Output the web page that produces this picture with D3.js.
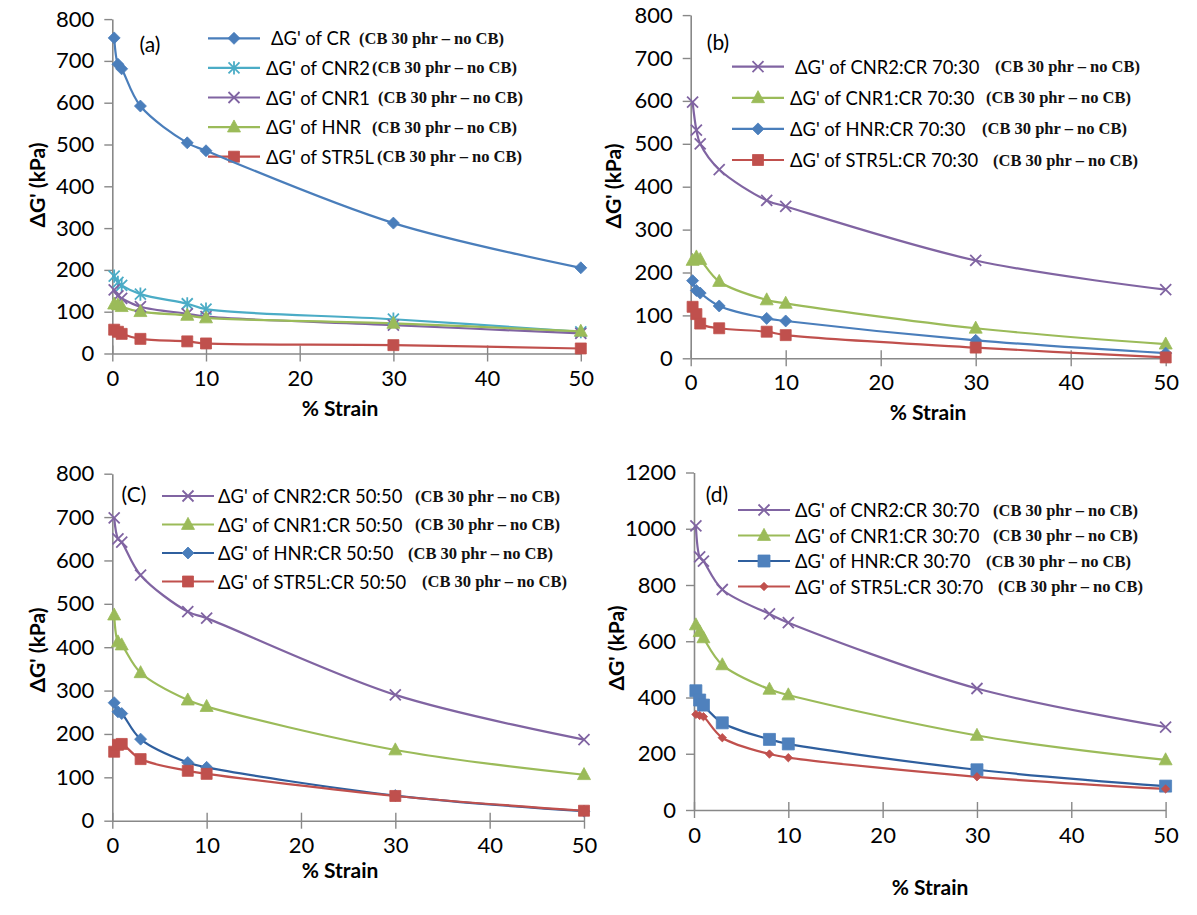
<!DOCTYPE html>
<html>
<head>
<meta charset="utf-8">
<script src="https://cdn.jsdelivr.net/npm/d3@7"></script>
<style>
  body { margin: 0; background: #fff; }
  svg { display: block; }
  .tick text { font-family: Lato, "Liberation Sans", sans-serif; }
</style>
</head>
<body>
<div id="chart"></div>
<script>
const strain = [0.2, 0.6, 1, 3, 8, 10, 30, 50];
const xTicks = [0, 10, 20, 30, 40, 50];
const yTicks800 = [0, 100, 200, 300, 400, 500, 600, 700, 800];
const yTicks1200 = [0, 200, 400, 600, 800, 1000, 1200];
const note = '(CB 30 phr \u2013 no CB)';

// panel (a)
const aNames = ["\u0394G' of CR", "\u0394G' of CNR2", "\u0394G' of CNR1", "\u0394G' of HNR", "\u0394G' of STR5L"];
const aCR = [755, 692, 681, 592, 504, 485, 312, 205];
const aCNR2 = [185, 170, 163, 142, 119, 106, 82, 52];
const aCNR1 = [152, 138, 132, 112, 95, 88, 68, 48];
const aHNR = [118, 116, 112, 100, 91, 85, 72, 53];
const aSTR5L = [57, 52, 47, 35, 29, 24, 20, 12];

// panel (b)
const bNames = ["\u0394G' of CNR2:CR 70:30", "\u0394G' of CNR1:CR 70:30", "\u0394G' of HNR:CR 70:30", "\u0394G' of STR5L:CR 70:30"];
const bCNR2 = [597, 532, 500, 440, 368, 354, 228, 160];
const bCNR1 = [228, 236, 230, 179, 136, 128, 70, 33];
const bHNR = [181, 158, 152, 122, 93, 87, 42, 12];
const bSTR5L = [120, 103, 81, 70, 62, 54, 25, 2];

// panel (c)
const cNames = ["\u0394G' of CNR2:CR 50:50", "\u0394G' of CNR1:CR 50:50", "\u0394G' of HNR:CR 50:50", "\u0394G' of STR5L:CR 50:50"];
const cCNR2 = [698, 650, 642, 566, 482, 467, 290, 187];
const cCNR1 = [474, 412, 405, 341, 278, 263, 163, 106];
const cHNR = [272, 251, 247, 188, 134, 123, 58, 22];
const cSTR5L = [159, 175, 177, 142, 115, 108, 57, 23];

// panel (d)
const dNames = ["\u0394G' of CNR2:CR 30:70", "\u0394G' of CNR1:CR 30:70", "\u0394G' of HNR:CR 30:70", "\u0394G' of STR5L:CR 30:70"];
const dCNR2 = [1010, 900, 885, 784, 697, 666, 432, 295];
const dCNR1 = [658, 634, 612, 516, 429, 409, 265, 178];
const dHNR = [424, 391, 373, 310, 251, 235, 143, 85];
const dSTR5L = [340, 336, 332, 257, 199, 186, 118, 75];

const BLUE = '#4a7ebb', DBLUE = '#2f5f9e', CYAN = '#4bacc6', PURPLE = '#8064a2', GREEN = '#9bbb59', RED = '#c0504d';
const SANS = 'Lato, "Liberation Sans", sans-serif';

// marker shapes, centred at 0,0
const markers = {
    diamond: s => `M0,${-s}L${s},0L0,${s}L${-s},0Z`,
    square: s => `M${-s},${-s}H${s}V${s}H${-s}Z`,
    triangle: s => `M0,${-s * 1.1}L${s},${s * 0.75}L${-s},${s * 0.75}Z`,
    cross: s => `M${-s},${-s}L${s},${s}M${-s},${s}L${s},${-s}`,
    star: s => `M${-s},${-s}L${s},${s}M${-s},${s}L${s},${-s}M0,${-s * 1.2}V${s * 1.2}`
};

const panels = [
    {
        label: '(a)', labelX: 150, labelY: 52,
        x0: 112.3, x1: 580.8, y0: 353.5, y1: 19.1, yMax: 800, yTicks: yTicks800,
        yTitleX: 36, yTitleY: 185, xTitleX: 340, xTitleY: 416, xTickY: 378,
        legX: 208, legY: 38.3, legStep: 29.6, textX: 266, noteX: [359, 372, 378, 372, 377],
        series: [
            { name: aNames[0], values: aCR, color: BLUE, line: BLUE, marker: 'diamond', size: 6, lead: true },
            { name: aNames[1], values: aCNR2, color: CYAN, line: CYAN, marker: 'star', size: 5.5 },
            { name: aNames[2], values: aCNR1, color: PURPLE, line: PURPLE, marker: 'cross', size: 5.5 },
            { name: aNames[3], values: aHNR, color: GREEN, line: GREEN, marker: 'triangle', size: 6.5 },
            { name: aNames[4], values: aSTR5L, color: RED, line: RED, marker: 'square', size: 5.5 }
        ]
    },
    {
        label: '(b)', labelX: 718, labelY: 50,
        x0: 690.7, x1: 1165.7, y0: 358.3, y1: 15.1, yMax: 800, yTicks: yTicks800,
        yTitleX: 612, yTitleY: 186, xTitleX: 928, xTitleY: 420, xTickY: 382,
        legX: 732, legY: 66.7, legStep: 31.1, textX: 790, noteX: [995, 986, 982, 993],
        series: [
            { name: bNames[0], values: bCNR2, color: PURPLE, line: PURPLE, marker: 'cross', size: 5.5, lead: true },
            { name: bNames[1], values: bCNR1, color: GREEN, line: GREEN, marker: 'triangle', size: 6.5 },
            { name: bNames[2], values: bHNR, color: BLUE, line: BLUE, marker: 'diamond', size: 6 },
            { name: bNames[3], values: bSTR5L, color: RED, line: RED, marker: 'square', size: 5.5 }
        ]
    },
    {
        label: '(C)', labelX: 134, labelY: 502,
        x0: 112.3, x1: 584, y0: 820.7, y1: 473.7, yMax: 800, yTicks: yTicks800,
        yTitleX: 36, yTitleY: 650, xTitleX: 340, xTitleY: 878, xTickY: 845,
        legX: 162, legY: 496, legStep: 28.5, textX: 218, noteX: [415, 415, 408, 422],
        series: [
            { name: cNames[0], values: cCNR2, color: PURPLE, line: PURPLE, marker: 'cross', size: 5.5 },
            { name: cNames[1], values: cCNR1, color: GREEN, line: GREEN, marker: 'triangle', size: 6.5 },
            { name: cNames[2], values: cHNR, color: BLUE, line: DBLUE, marker: 'diamond', size: 6 },
            { name: cNames[3], values: cSTR5L, color: RED, line: RED, marker: 'square', size: 5.5 }
        ]
    },
    {
        label: '(d)', labelX: 717, labelY: 502,
        x0: 694, x1: 1165.6, y0: 810, y1: 472.5, yMax: 1200, yTicks: yTicks1200,
        yTitleX: 615, yTitleY: 648, xTitleX: 930, xTitleY: 895, xTickY: 835,
        legX: 738, legY: 510, legStep: 25.5, textX: 795, noteX: [993, 993, 986, 998],
        series: [
            { name: dNames[0], values: dCNR2, color: PURPLE, line: PURPLE, marker: 'cross', size: 5.5 },
            { name: dNames[1], values: dCNR1, color: GREEN, line: GREEN, marker: 'triangle', size: 6.5 },
            { name: dNames[2], values: dHNR, color: '#4f81bd', line: DBLUE, marker: 'square', size: 6 },
            { name: dNames[3], values: dSTR5L, color: RED, line: RED, marker: 'diamond', size: 4.2 }
        ]
    }
];

const svg = d3.select('#chart')
    .append('svg')
    .attr('width', 1197)
    .attr('height', 915);

function drawMarker(parent, s, cx, cy) {
    const open = s.marker === 'cross' || s.marker === 'star';
    parent.append('path')
        .attr('transform', `translate(${cx},${cy})`)
        .attr('d', markers[s.marker](s.size))
        .attr('fill', open ? 'none' : s.color)
        .attr('stroke', s.color)
        .attr('stroke-width', open ? 1.8 : 0.8);
}

const drawPanel = function (p) {
    const g = svg.append('g');

    const x = d3.scaleLinear().domain([0, 50]).range([p.x0, p.x1]);
    const y = d3.scaleLinear().domain([0, p.yMax]).range([p.y0, p.y1]);

    // Y axis
    const yAxis = g.append('g')
        .attr('transform', `translate(${p.x0},0)`)
        .call(d3.axisLeft(y).tickValues(p.yTicks).tickFormat(d3.format('d'))
            .tickSize(8).tickPadding(10).tickSizeOuter(0));
    yAxis.select('.domain').attr('stroke', '#888').attr('stroke-width', 1.6);
    yAxis.selectAll('.tick line').attr('stroke', '#888').attr('stroke-width', 1.4);
    yAxis.selectAll('.tick text').attr('font-size', 22).attr('fill', '#000');

    // X axis, ticks cross the line
    const xAxis = g.append('g')
        .attr('transform', `translate(0,${p.y0})`)
        .call(d3.axisBottom(x).tickValues(xTicks).tickSizeInner(8).tickSizeOuter(0).tickPadding(0));
    xAxis.select('.domain').attr('stroke', '#888').attr('stroke-width', 1.6);
    xAxis.selectAll('.tick line').attr('stroke', '#888').attr('stroke-width', 1.4).attr('y1', -8);
    xAxis.selectAll('.tick text')
        .attr('font-size', 22).attr('fill', '#000')
        .attr('dy', null)
        .attr('y', p.xTickY - p.y0 + 8);

    // Axis titles
    const yt = g.append('text')
        .attr('transform', `translate(${p.yTitleX},${p.yTitleY}) rotate(-90)`)
        .attr('text-anchor', 'middle')
        .attr('dominant-baseline', 'central')
        .attr('font-family', SANS)
        .attr('font-weight', 'bold')
        .attr('font-size', 21);
    yt.append('tspan').text("\u0394G'");
    yt.append('tspan').text(' (kPa)');

    g.append('text')
        .attr('x', p.xTitleX)
        .attr('y', p.xTitleY)
        .attr('text-anchor', 'middle')
        .attr('font-family', SANS)
        .attr('font-weight', 'bold')
        .attr('font-size', 21)
        .text('% Strain');

    // Panel label
    g.append('text')
        .attr('x', p.labelX)
        .attr('y', p.labelY)
        .attr('text-anchor', 'middle')
        .attr('font-family', SANS)
        .attr('font-size', 21)
        .text(p.label);

    const line = d3.line()
        .x((d, i) => x(strain[i]))
        .y(d => y(d))
        .curve(d3.curveCatmullRom.alpha(0.5));

    // Legend
    p.series.forEach((s, i) => {
        const ly = p.legY + i * p.legStep;
        const leg = g.append('g');
        leg.append('line')
            .attr('x1', p.legX).attr('x2', p.legX + 52)
            .attr('y1', ly).attr('y2', ly)
            .attr('stroke', s.line).attr('stroke-width', 2.2);
        drawMarker(leg, s, p.legX + 26, ly);
        leg.append('text')
            .attr('x', p.textX + (s.lead ? 5 : 0))
            .attr('y', ly)
            .attr('dominant-baseline', 'central')
            .attr('font-family', SANS)
            .attr('font-size', 18.4)
            .text(s.name);
        leg.append('text')
            .attr('x', p.noteX[i])
            .attr('y', ly)
            .attr('dominant-baseline', 'central')
            .attr('font-family', '"Liberation Serif", "DejaVu Serif", serif')
            .attr('font-size', 16.5)
            .attr('font-weight', 'bold')
            .attr('fill', '#111')
            .text(note);
    });

    // Series lines and markers
    p.series.forEach(s => {
        g.append('path')
            .datum(s.values)
            .attr('fill', 'none')
            .attr('stroke', s.line)
            .attr('stroke-width', 2.2)
            .attr('d', line);
    });
    p.series.forEach(s => {
        s.values.forEach((v, i) => drawMarker(g, s, x(strain[i]), y(v)));
    });
};

panels.forEach(drawPanel);
</script>
</body>
</html>
